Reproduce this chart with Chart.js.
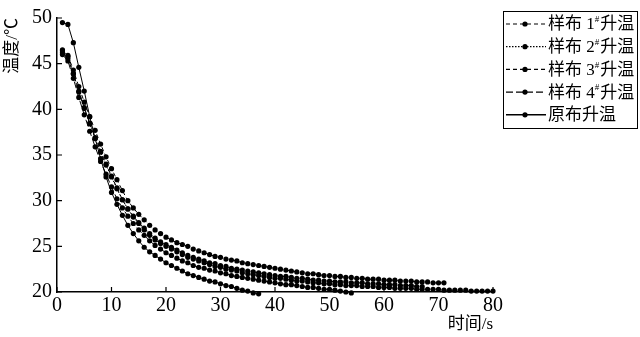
<!DOCTYPE html>
<html>
<head>
<meta charset="utf-8">
<script src="https://cdn.jsdelivr.net/npm/chart.js@4"></script>
<style>
  html, body { margin: 0; background: #fff; }
  #wrap { width: 640px; height: 337px; }
</style>
</head>
<body>
<div id="wrap"><canvas id="grafico"></canvas></div>
<script>
// time in seconds, one reading per second
const seconds = [1,2,3,4,5,6,7,8,9,10,11,12,13,14,15,16,17,18,19,20,
  21,22,23,24,25,26,27,28,29,30,31,32,33,34,35,36,37,38,39,40,
  41,42,43,44,45,46,47,48,49,50,51,52,53,54,55,56,57,58,59,60,
  61,62,63,64,65,66,67,68,69,70,71,72,73,74,75,76,77,78,79,80];

// temperatures (°C)
const sample1 = [46.4,45.9,44.3,42.5,40.8,39.2,37.7,36.2,34.8,33.5,32.3,31.1,30.0,29.2,28.5,27.9,27.3,26.8,26.4,26.0,
  25.7,25.4,25.2,25.0,24.7,24.5,24.3,24.1,23.9,23.8,23.6,23.5,23.4,23.2,23.1,23.0,22.9,22.8,22.7,22.6,
  22.5,22.4,22.3,22.2,22.1,22.0,22.0,21.9,21.8,21.8,21.7,21.7,21.6,21.6,21.5,21.5,21.4,21.4,21.4,21.3,
  21.3,21.3,21.2,21.2,21.2,21.1,21.1,21.1,21.0,21.0,21.0];
const sample2 = [46.5,45.8,43.9,41.9,40.1,38.4,36.8,35.3,33.9,32.6,31.3,30.1,29.1,28.2,27.5,26.8,26.2,25.7,25.3,25.0,
  24.7,24.4,24.1,23.8,23.6,23.4,23.2,23.0,22.8,22.7,22.5,22.4,22.3,22.1,22.0,21.9,21.8,21.7,21.6,21.5,
  21.5,21.4,21.3,21.2,21.2,21.1,21.0,21.0,20.9,20.9,20.8,20.8,20.7,20.7,20.7,20.6,20.6,20.6,20.5,20.5,
  20.5,20.4,20.4,20.4,20.4,20.3,20.3,20.3,20.3,20.3,20.2,20.2,20.2,20.2,20.2,20.1,20.1,20.1,20.1,20.1];
const sample3 = [46.2,45.6,43.9,42.0,40.2,38.5,36.9,35.4,34.0,32.7,31.4,30.1,29.1,28.3,27.6,27.0,26.4,25.9,25.5,25.2,
  24.9,24.6,24.3,24.0,23.8,23.6,23.4,23.2,23.1,22.9,22.8,22.6,22.5,22.4,22.3,22.2,22.1,22.0,21.9,21.8,
  21.7,21.7,21.6,21.5,21.5,21.4,21.3,21.3,21.2,21.2,21.1,21.1,21.1,21.0,21.0,21.0,20.9,20.9,20.9,20.8,
  20.8,20.8,20.7,20.7,20.7,20.6,20.6];
const sample4 = [46.0,45.3,43.4,41.3,39.4,37.6,35.9,34.3,32.9,31.5,30.2,29.2,28.3,27.5,26.8,26.2,25.6,25.1,24.7,24.3,
  24.0,23.7,23.4,23.2,22.9,22.7,22.6,22.4,22.3,22.1,22.0,21.8,21.7,21.6,21.5,21.4,21.3,21.2,21.1,21.0,
  20.9,20.8,20.8,20.7,20.6,20.5,20.5,20.4,20.3,20.3,20.2,20.1,20.0,19.9];
const original = [49.5,49.3,47.3,44.6,42.0,39.2,36.8,34.6,32.6,30.9,29.6,28.4,27.3,26.4,25.6,24.9,24.4,24.0,23.6,23.2,
  22.9,22.6,22.3,22.0,21.8,21.6,21.4,21.2,21.1,20.9,20.7,20.6,20.4,20.2,20.1,19.9,19.8];

const seriesNames = ['样布 1#升温', '样布 2#升温', '样布 3#升温', '样布 4#升温', '原布升温'];
const seriesValues = [sample1, sample2, sample3, sample4, original];
const seriesDash = [[4, 3], [1.5, 1.5], [4, 3], [7, 3], []];

const xTicks = [0, 10, 20, 30, 40, 50, 60, 70, 80];
const yTicks = [20, 25, 30, 35, 40, 45, 50];

const serif = '"Liberation Serif", "Noto Sans CJK SC", serif';

const datasets = seriesValues.map((vals, i) => ({
  label: seriesNames[i],
  data: vals.map((v, k) => ({ x: seconds[k], y: v })),
  borderColor: '#000',
  backgroundColor: '#000',
  pointBackgroundColor: '#000',
  pointBorderWidth: 0,
  pointRadius: 2.6,
  borderWidth: 1,
  borderDash: seriesDash[i],
  tension: 0,
  clip: 6
}));

// small tick marks pointing into the plot
const inwardTicks = {
  id: 'inwardTicks',
  afterDraw(chart) {
    const { ctx, chartArea, scales } = chart;
    ctx.save();
    ctx.strokeStyle = '#000';
    ctx.lineWidth = 1.2;
    ctx.beginPath();
    xTicks.forEach(t => {
      const px = scales.x.getPixelForValue(t);
      ctx.moveTo(px, chartArea.bottom);
      ctx.lineTo(px, chartArea.bottom - 5);
    });
    yTicks.forEach(t => {
      const py = scales.y.getPixelForValue(t);
      ctx.moveTo(chartArea.left, py);
      ctx.lineTo(chartArea.left + 5, py);
    });
    ctx.stroke();
    ctx.restore();
  }
};

// boxed legend with superscript "#"
const boxLegend = {
  id: 'boxLegend',
  afterDraw(chart) {
    const ctx = chart.ctx;
    const left = 503, top = 11, w = 134, h = 117;
    ctx.save();
    ctx.strokeStyle = '#000';
    ctx.lineWidth = 1;
    ctx.strokeRect(left + 0.5, top + 0.5, w, h);
    chart.data.datasets.forEach((ds, i) => {
      const yy = top + 13 + i * 22.7;
      ctx.setLineDash(ds.borderDash);
      ctx.lineWidth = i === 4 ? 1.4 : 1.2;
      ctx.beginPath();
      ctx.moveTo(left + 3, yy);
      ctx.lineTo(left + 43, yy);
      ctx.stroke();
      ctx.setLineDash([]);
      ctx.beginPath();
      ctx.arc(left + 22, yy, 2.6, 0, Math.PI * 2);
      ctx.fillStyle = '#000';
      ctx.fill();
      const parts = ds.label.split('#');
      let tx = left + 45;
      ctx.textBaseline = 'middle';
      ctx.font = '17px ' + serif;
      ctx.fillText(parts[0], tx, yy + 1);
      tx += ctx.measureText(parts[0]).width;
      if (parts.length > 1) {
        ctx.font = '9px ' + serif;
        ctx.fillText('#', tx, yy - 4);
        tx += ctx.measureText('#').width + 1;
        ctx.font = '17px ' + serif;
        ctx.fillText(parts[1], tx, yy + 1);
      }
    });
    ctx.restore();
  }
};

new Chart(document.getElementById('grafico').getContext('2d'), {
  type: 'line',
  data: { datasets },
  options: {
    responsive: true,
    maintainAspectRatio: false,
    animation: false,
    layout: { padding: { top: 18, right: 147, left: 0, bottom: 0 } },
    plugins: {
      legend: { display: false },
      tooltip: { enabled: false }
    },
    scales: {
      x: {
        type: 'linear',
        min: 0,
        max: 80,
        afterFit: s => { s.height = 45; },
        afterBuildTicks: s => { s.ticks = xTicks.map(v => ({ value: v })); },
        grid: { display: false, drawTicks: false },
        border: { display: true, color: '#000', width: 1.5 },
        ticks: { color: '#000', padding: 2, maxRotation: 0, font: { family: serif, size: 20 } },
        title: { display: true, text: '时间/s', align: 'end', color: '#000', padding: { top: 0, bottom: 2 }, font: { family: serif, size: 17 } }
      },
      y: {
        min: 20,
        max: 50,
        afterFit: s => { s.width = 57; },
        afterBuildTicks: s => { s.ticks = yTicks.map(v => ({ value: v })); },
        grid: { display: false, drawTicks: false },
        border: { display: true, color: '#000', width: 1.5 },
        ticks: { color: '#000', padding: 5, font: { family: serif, size: 20 } },
        title: { display: true, text: '温度/℃', align: 'end', color: '#000', padding: { top: 2, bottom: 0 }, font: { family: serif, size: 17 } }
      }
    }
  },
  plugins: [inwardTicks, boxLegend]
});
</script>
</body>
</html>
